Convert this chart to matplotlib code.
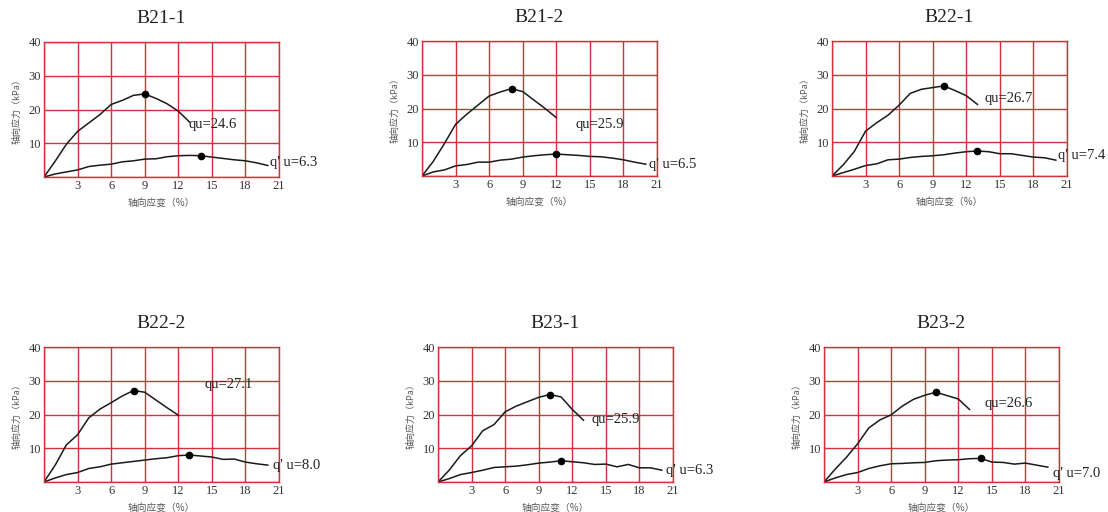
import matplotlib.pyplot as plt

names = ['B21-1', 'B21-2', 'B22-1', 'B22-2', 'B23-1', 'B23-2']

# peak strength and strain at peak
qu = [24.6, 25.9, 26.7, 27.1, 25.9, 26.6]
qu_strain = [9, 8, 10, 8, 10, 10]
qru = [6.3, 6.5, 7.4, 8.0, 6.3, 7.0]
qru_strain = [14, 12, 13, 13, 11, 14]

# stress (kPa) at strain 0, 1, 2, ... (%)
undisturbed = [
    [0, 4.7, 9.7, 13.5, 16.0, 18.5, 21.5, 22.7, 24.2, 24.6, 23.3, 21.7, 19.5, 16.3],
    [0, 4.3, 9.6, 15.3, 18.3, 21.0, 23.7, 24.9, 25.9, 25.0, 22.5, 20.0, 17.3],
    [0, 3.3, 7.3, 13.3, 15.8, 18.0, 21.0, 24.5, 25.7, 26.2, 26.7, 25.3, 23.8, 21.2],
    [0, 5.0, 11.0, 14.0, 19.0, 21.6, 23.5, 25.5, 27.1, 26.6, 24.3, 22.0, 19.8],
    [0, 3.5, 7.8, 10.7, 15.2, 17.0, 20.8, 22.5, 23.8, 25.1, 25.9, 25.2, 21.5, 18.3],
    [0, 3.8, 7.3, 11.3, 16.0, 18.4, 19.9, 22.5, 24.5, 25.7, 26.6, 25.6, 24.6, 21.5],
]
remolded = [
    [0, 0.9, 1.5, 2.1, 3.1, 3.5, 3.8, 4.5, 4.8, 5.3, 5.4, 6.0, 6.3, 6.4, 6.3, 5.9, 5.5, 5.1, 4.8, 4.2, 3.4],
    [0, 1.2, 1.8, 3.0, 3.4, 4.1, 4.1, 4.7, 5.0, 5.6, 6.0, 6.3, 6.5, 6.3, 6.1, 5.8, 5.7, 5.3, 4.8, 4.1, 3.5],
    [0, 1.0, 2.0, 3.1, 3.6, 4.8, 5.0, 5.5, 5.8, 6.0, 6.3, 6.8, 7.2, 7.4, 7.2, 6.6, 6.6, 6.1, 5.6, 5.4, 4.7],
    [0, 1.2, 2.2, 2.8, 4.0, 4.5, 5.3, 5.7, 6.1, 6.5, 6.9, 7.2, 7.8, 8.0, 7.7, 7.4, 6.7, 6.8, 5.9, 5.4, 5.0],
    [0, 1.0, 2.2, 2.8, 3.5, 4.3, 4.5, 4.7, 5.1, 5.6, 5.9, 6.3, 6.0, 5.7, 5.2, 5.3, 4.5, 5.2, 4.2, 4.2, 3.5],
    [0, 1.2, 2.2, 2.8, 4.0, 4.8, 5.4, 5.5, 5.7, 5.8, 6.3, 6.5, 6.6, 6.9, 7.0, 5.9, 5.8, 5.3, 5.6, 5.0, 4.4],
]

# label positions (data coords)
qu_pos = [(12.9, 15.6), (13.7, 15.3), (13.6, 22.9), (14.3, 28.8), (13.7, 18.6), (14.3, 23.3)]
qru_pos = [(20.2, 4.2), (20.3, 3.3), (20.2, 6.0), (20.5, 4.8), (20.4, 3.5), (20.5, 2.5)]

# axes rectangles in pixels: left, top
W, H = 1108, 512
boxes = [(44, 42), (422, 41), (832, 41), (44, 347), (438, 347), (824, 347)]
aw, ah = 235, 135

red = '#d3303c'
serif = ['Liberation Serif', 'DejaVu Serif']
cjk = ['Noto Sans CJK SC', 'DejaVu Sans']

fig = plt.figure(figsize=(W / 100, H / 100), dpi=100)

for i in range(6):
    left, top = boxes[i]
    ax = fig.add_axes([left / W, 1 - (top + ah) / H, aw / W, ah / H])
    ax.set_xlim(0, 21)
    ax.set_ylim(0, 40)
    ax.set_xticks(range(0, 22, 3))
    ax.set_xticklabels([''] + [str(v) for v in range(3, 22, 3)])
    ax.set_yticks(range(0, 41, 10))
    ax.set_yticklabels([''] + [str(v) for v in range(10, 41, 10)])
    ax.tick_params(length=0, pad=2, labelsize=9, colors='#333333')
    for lab in ax.get_xticklabels() + ax.get_yticklabels():
        lab.set_family(serif)
    ax.grid(True, color=red, linewidth=1.0)
    for s in ax.spines.values():
        s.set_color(red)
        s.set_linewidth(1.0)

    up = undisturbed[i]
    re = remolded[i]
    ax.plot(range(len(up)), up, color='#1a1a1a', linewidth=1.1)
    ax.plot(range(len(re)), re, color='#1a1a1a', linewidth=1.1)
    ax.plot([qu_strain[i]], [qu[i]], 'o', color='black', markersize=4.5)
    ax.plot([qru_strain[i]], [qru[i]], 'o', color='black', markersize=4.5)

    ax.text(qu_pos[i][0], qu_pos[i][1], 'qu=%.1f' % qu[i], family=serif,
            fontsize=10.5, va='center', ha='left', color='#222222')
    ax.text(qru_pos[i][0], qru_pos[i][1], "q' u=%.1f" % qru[i], family=serif,
            fontsize=10.5, va='center', ha='left', color='#222222', clip_on=False)

    ax.set_title(names[i], family=serif, fontsize=14, pad=14, color='#222222')
    ax.set_ylabel('轴向应力（kPa）', family=cjk, fontsize=6.5, color='#555555', labelpad=5)
    ax.set_xlabel('轴向应变（%）', family=cjk, fontsize=7, color='#555555', labelpad=4)

fig.savefig('out.png', dpi=100)
